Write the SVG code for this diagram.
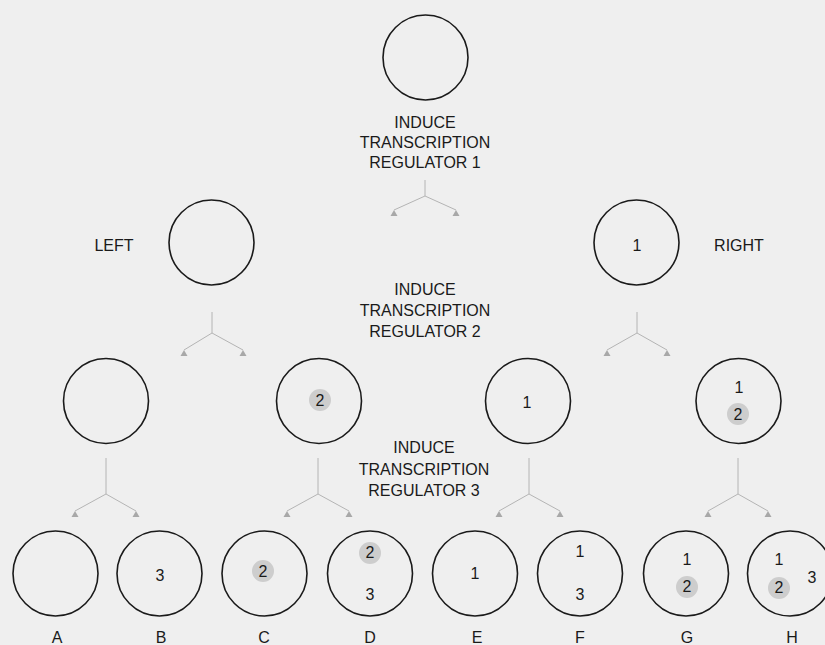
<svg xmlns="http://www.w3.org/2000/svg" xmlns:xlink="http://www.w3.org/1999/xlink" width="825" height="645" viewBox="0 0 825 645">
<style>
.cell{fill:none;stroke:#1a1a1a;stroke-width:1.6}
.t{font-family:"Liberation Sans","Open Sans",Arial,sans-serif;font-size:16px;fill:#1a1a1a;text-anchor:middle}
.hl{fill:#cdcdcd}
.con{fill:none;stroke:#b4b4b4;stroke-width:1}
.ah{fill:#a8a8a8}
</style>
<defs>
<path id="ah" d="M0,0 L3.5,6 L-3.5,6 Z"/>
</defs>
<rect width="825" height="645" fill="#efefef"/>

<g id="connectors">
<path class="con" d="M425,180 V196 L394,210 M425,196 L456,210"/>
<path class="con" d="M212,312 V333 L184,350 M212,333 L243,350"/>
<path class="con" d="M637,312 V333 L607,350 M637,333 L667,350"/>
<path class="con" d="M106,458 V494 L75,511 M106,494 L136,511"/>
<path class="con" d="M318,458 V494 L287,511 M318,494 L349,511"/>
<path class="con" d="M529,458 V494 L499,511 M529,494 L560,511"/>
<path class="con" d="M738,458 V494 L708,511 M738,494 L768,511"/>
<g class="ah">
<use xlink:href="#ah" x="394" y="210"/><use xlink:href="#ah" x="456" y="210"/>
<use xlink:href="#ah" x="184" y="350"/><use xlink:href="#ah" x="243" y="350"/>
<use xlink:href="#ah" x="607" y="350"/><use xlink:href="#ah" x="667" y="350"/>
<use xlink:href="#ah" x="75" y="511"/><use xlink:href="#ah" x="136" y="511"/>
<use xlink:href="#ah" x="287" y="511"/><use xlink:href="#ah" x="349" y="511"/>
<use xlink:href="#ah" x="499" y="511"/><use xlink:href="#ah" x="560" y="511"/>
<use xlink:href="#ah" x="708" y="511"/><use xlink:href="#ah" x="768" y="511"/>
</g>
</g>

<g id="root"><circle class="cell" cx="425.5" cy="57.5" r="42.5"/></g>
<g id="step1"><text class="t" x="425" y="128">INDUCE</text><text class="t" x="425" y="148">TRANSCRIPTION</text><text class="t" x="425" y="168">REGULATOR 1</text></g>

<g id="left"><circle class="cell" cx="211.5" cy="242.5" r="42.5"/><text class="t" x="114" y="251">LEFT</text></g>
<g id="right"><circle class="cell" cx="636.5" cy="242.5" r="42.5"/><text class="t" x="637" y="251">1</text><text class="t" x="739" y="251">RIGHT</text></g>
<g id="step2"><text class="t" x="425" y="295">INDUCE</text><text class="t" x="425" y="316">TRANSCRIPTION</text><text class="t" x="425" y="337">REGULATOR 2</text></g>

<g id="l2a"><circle class="cell" cx="106" cy="401" r="42.5"/></g>
<g id="l2b"><circle class="cell" cx="319" cy="401" r="42.5"/><circle class="hl" cx="320" cy="400" r="11"/><text class="t" x="320" y="406">2</text></g>
<g id="l2c"><circle class="cell" cx="528" cy="401" r="42.5"/><text class="t" x="527" y="408">1</text></g>
<g id="l2d"><circle class="cell" cx="738.5" cy="401" r="42.5"/><text class="t" x="739" y="393">1</text><circle class="hl" cx="738" cy="414" r="11"/><text class="t" x="738" y="420">2</text></g>
<g id="step3"><text class="t" x="424" y="453">INDUCE</text><text class="t" x="424" y="475">TRANSCRIPTION</text><text class="t" x="424" y="496">REGULATOR 3</text></g>

<g id="A"><circle class="cell" cx="55.5" cy="573.5" r="42.5"/><text class="t" x="57" y="643">A</text></g>
<g id="B"><circle class="cell" cx="159.5" cy="573.5" r="42.5"/><text class="t" x="160" y="581">3</text><text class="t" x="161" y="643">B</text></g>
<g id="C"><circle class="cell" cx="264.5" cy="573.5" r="42.5"/><circle class="hl" cx="263" cy="571" r="11"/><text class="t" x="263" y="577">2</text><text class="t" x="264" y="643">C</text></g>
<g id="D"><circle class="cell" cx="370" cy="573.5" r="42.5"/><circle class="hl" cx="370" cy="553" r="11"/><text class="t" x="370" y="558">2</text><text class="t" x="370" y="600">3</text><text class="t" x="370" y="643">D</text></g>
<g id="E"><circle class="cell" cx="475" cy="573.5" r="42.5"/><text class="t" x="475" y="579">1</text><text class="t" x="477" y="643">E</text></g>
<g id="F"><circle class="cell" cx="580" cy="573.5" r="42.5"/><text class="t" x="580" y="557">1</text><text class="t" x="580" y="600">3</text><text class="t" x="580" y="643">F</text></g>
<g id="G"><circle class="cell" cx="686" cy="573.5" r="42.5"/><text class="t" x="687" y="565">1</text><circle class="hl" cx="687" cy="587" r="11"/><text class="t" x="687" y="592">2</text><text class="t" x="687" y="643">G</text></g>
<g id="H"><circle class="cell" cx="790" cy="573.5" r="42.5"/><text class="t" x="779" y="565">1</text><circle class="hl" cx="779" cy="588" r="11"/><text class="t" x="779" y="593">2</text><text class="t" x="812" y="583">3</text><text class="t" x="792" y="643">H</text></g>
</svg>
